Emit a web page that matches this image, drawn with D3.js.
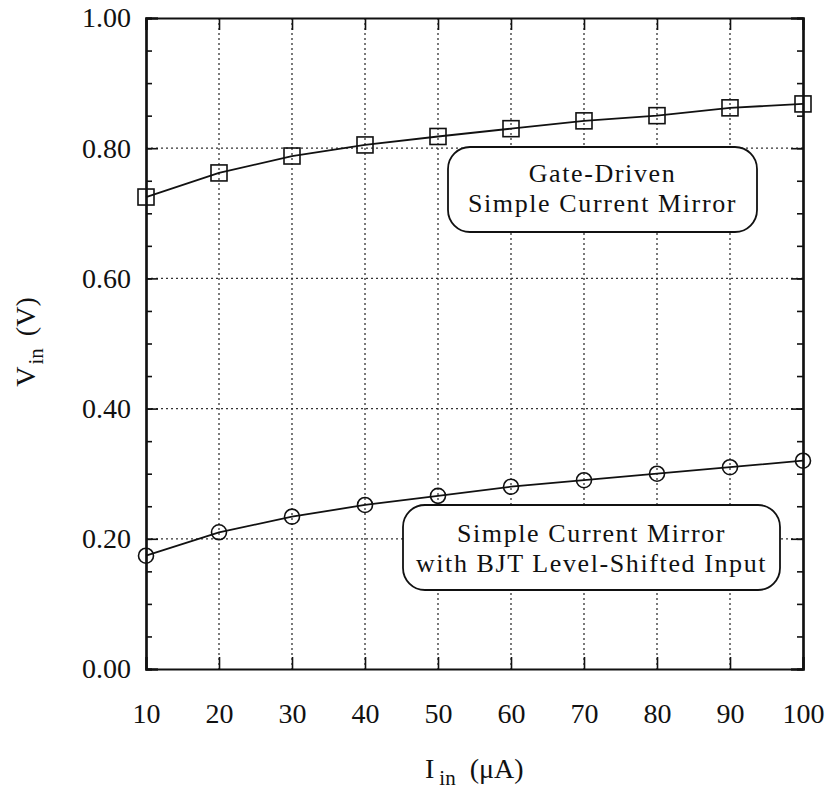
<!DOCTYPE html>
<html><head><meta charset="utf-8">
<script src="https://cdn.jsdelivr.net/npm/d3@7"></script>
<style>body{margin:0;background:#fff}svg{display:block}text{font-family:"Liberation Serif","DejaVu Serif",serif;fill:#111}</style>
</head><body><svg id="c" width="830" height="791"></svg>
<script>
const xValues = [10,20,30,40,50,60,70,80,90,100];
const gateDriven = [0.725,0.762,0.788,0.805,0.818,0.830,0.842,0.850,0.862,0.868];
const bjtShifted = [0.174,0.210,0.234,0.252,0.266,0.280,0.290,0.300,0.310,0.320];
const yTicks = [0,0.2,0.4,0.6,0.8,1.0];
const yMinor = d3.range(0,1.0001,0.05);
const label1 = ["Gate-Driven","Simple Current Mirror"];
const label2 = ["Simple Current Mirror","with BJT Level-Shifted Input"];

const svg = d3.select("#c");
const L=146,R=803,T=18,B=669;
const x = d3.scaleLinear().domain([10,100]).range([L,R]);
const y = d3.scaleLinear().domain([0,1]).range([B,T]);
const g = svg.append("g");

// grid
g.append("g").selectAll("line").data(xValues.slice(1,-1)).join("line")
 .attr("x1",d=>x(d)).attr("x2",d=>x(d)).attr("y1",T).attr("y2",B)
 .attr("stroke","#333").attr("stroke-width",1.3).attr("stroke-dasharray","2,3");
g.append("g").selectAll("line").data(yTicks.slice(1,-1)).join("line")
 .attr("x1",L).attr("x2",R).attr("y1",d=>y(d)).attr("y2",d=>y(d))
 .attr("stroke","#333").attr("stroke-width",1.3).attr("stroke-dasharray","2,3");

// axes
const axL = d3.axisLeft(y).tickValues(yTicks).tickFormat(d3.format(".2f")).tickSize(-12).tickPadding(15);
const axLm = d3.axisLeft(y).tickValues(yMinor).tickFormat("").tickSize(-6);
const axRm = d3.axisRight(y).tickValues(yMinor).tickFormat("").tickSize(-6);
const axR = d3.axisRight(y).tickValues(yTicks).tickFormat("").tickSize(-12);
const axB = d3.axisBottom(x).tickValues(xValues).tickFormat(d3.format("d")).tickSize(-12).tickPadding(34);
const axT = d3.axisTop(x).tickValues(xValues).tickFormat("").tickSize(-12);
function style(sel){sel.selectAll("path").attr("stroke","#111").attr("stroke-width",2.2);
 sel.selectAll("line").attr("stroke","#111").attr("stroke-width",1.6);
 sel.selectAll("text").attr("font-size",28).attr("font-family","Liberation Serif, serif").attr("fill","#111");}
g.append("g").attr("transform",`translate(${L},0)`).call(axLm).call(style);
g.append("g").attr("transform",`translate(${L},0)`).call(axL).call(style);
g.append("g").attr("transform",`translate(${R},0)`).call(axRm).call(style);
g.append("g").attr("transform",`translate(${R},0)`).call(axR).call(style);
g.append("g").attr("transform",`translate(0,${B})`).call(axB).call(style);
g.append("g").attr("transform",`translate(0,${T})`).call(axT).call(style);

// lines
const line = d3.line().x((d,i)=>x(xValues[i])).y(d=>y(d));
[gateDriven,bjtShifted].forEach(s=>{
 g.append("path").datum(s).attr("d",line).attr("fill","none").attr("stroke","#111").attr("stroke-width",1.8);
});
g.append("g").selectAll("rect").data(gateDriven).join("rect")
 .attr("x",(d,i)=>x(xValues[i])-8).attr("y",d=>y(d)-8).attr("width",16).attr("height",16)
 .attr("fill","none").attr("stroke","#111").attr("stroke-width",1.6);
g.append("g").selectAll("circle").data(bjtShifted).join("circle")
 .attr("cx",(d,i)=>x(xValues[i])).attr("cy",d=>y(d)).attr("r",7.5)
 .attr("fill","none").attr("stroke","#111").attr("stroke-width",1.6);

// label boxes
function box(x0,y0,w,h,lines,ty){
 const gg = g.append("g");
 gg.append("rect").attr("x",x0).attr("y",y0).attr("width",w).attr("height",h).attr("rx",22).attr("ry",22)
  .attr("fill","#fff").attr("stroke","#111").attr("stroke-width",1.8);
 lines.forEach((t,i)=>gg.append("text").attr("x",x0+w/2).attr("y",ty+i*30).attr("text-anchor","middle")
  .attr("font-size",26).attr("letter-spacing",1.6).text(t));
}
box(448,147,309,85,label1,182);
box(403,505,377,85,label2,542);

// axis titles
const xt = svg.append("text").attr("x",425).attr("y",778).attr("font-size",28);
xt.append("tspan").text("I");
xt.append("tspan").attr("dy",7).attr("font-size",21).attr("dx",5).text("in");
xt.append("tspan").attr("dy",-7).attr("dx",14).text("(μA)");
const yt = svg.append("text").attr("transform","translate(35,342) rotate(-90)").attr("text-anchor","middle").attr("font-size",28);
yt.append("tspan").text("V");
yt.append("tspan").attr("dy",8).attr("font-size",21).attr("dx",2).text("in");
yt.append("tspan").attr("dy",-8).attr("dx",12).text("(V)");
</script></body></html>
